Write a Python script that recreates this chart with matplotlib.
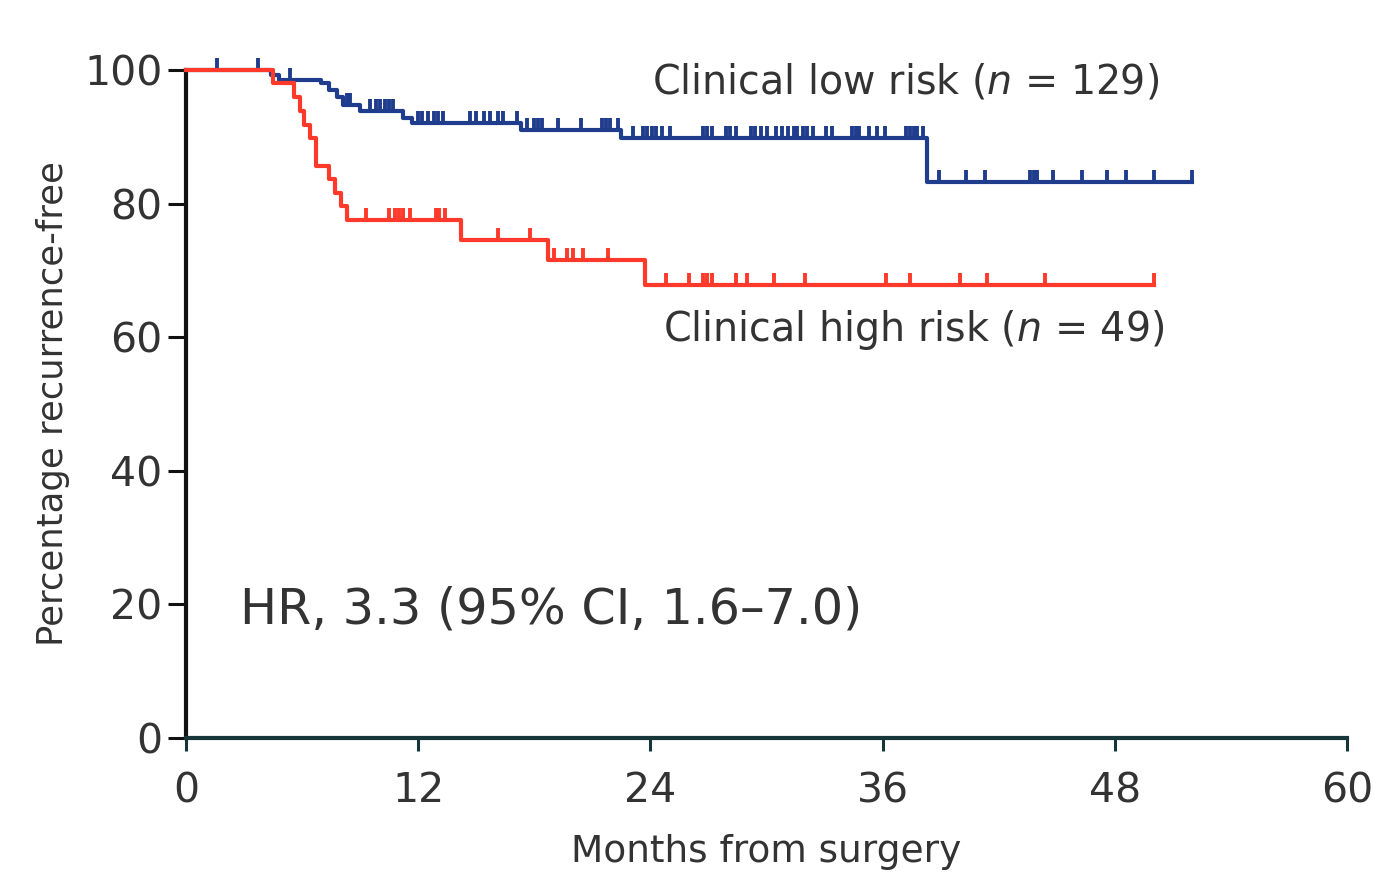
import numpy as np
import matplotlib
matplotlib.use("Agg")
import matplotlib.pyplot as plt

plt.rcParams["font.family"] = ["DejaVu Sans"]
plt.rcParams["mathtext.fontset"] = "dejavusans"

# Kaplan-Meier curves (months, % recurrence-free)
low_times = [0, 4.4, 4.8, 7.0, 7.4, 7.8, 8.1, 9.0, 11.2, 11.7, 17.3, 22.5, 38.3]
low_surv = [100, 99.2, 98.5, 98.0, 97.0, 96.0, 94.8, 93.8, 92.8, 92.0, 91.0, 89.8, 83.3]
low_end = 52.0
low_cens = [1.6, 3.7, 5.4, 8.3, 8.5, 9.5, 9.8, 10.0, 10.3, 10.5, 10.7, 12.0, 12.2,
            12.5, 12.8, 13.0, 13.3, 14.7, 15.0, 15.4, 15.7, 16.1, 16.4, 17.1, 17.6,
            18.0, 18.2, 18.4, 19.2, 20.4, 21.5, 21.7, 21.9, 22.3, 23.1, 23.6, 23.8,
            24.1, 24.3, 24.6, 25.0, 26.7, 26.9, 27.2, 27.9, 28.1, 28.4, 29.2, 29.4,
            29.7, 30.0, 30.5, 30.8, 31.1, 31.4, 31.6, 31.9, 32.1, 32.4, 33.1, 33.4,
            34.4, 34.6, 34.8, 35.3, 35.7, 36.1, 37.2, 37.4, 37.6, 37.8, 38.1, 38.9,
            40.3, 41.3, 43.6, 43.8, 44.0, 44.8, 46.3, 47.6, 48.6, 50.0, 52.0]

high_times = [0, 4.5, 5.6, 5.9, 6.1, 6.4, 6.7, 7.4, 7.7, 8.0, 8.3, 14.2, 18.7, 23.7]
high_surv = [100, 98.0, 95.9, 93.9, 91.8, 89.8, 85.7, 83.7, 81.6, 79.6, 77.6, 74.5, 71.5, 67.8]
high_end = 50.0
high_cens = [9.3, 10.5, 10.8, 11.0, 11.2, 11.6, 12.9, 13.1, 13.4, 16.1, 17.8, 19.0,
             19.7, 20.0, 20.5, 21.8, 24.8, 26.0, 26.7, 26.9, 27.2, 28.4, 29.0, 30.4,
             32.0, 36.2, 37.4, 40.0, 41.4, 44.4, 50.0]

low_label = "Clinical low risk ($n$ = 129)"
high_label = "Clinical high risk ($n$ = 49)"
hr_text = "HR, 3.3 (95% CI, 1.6\u20137.0)"

blue = "#1f3d8c"
red = "#ff3a2a"
grey = "#333333"


def km_curve(ax, times, surv, end, cens, color):
    t = np.append(times, end)
    s = np.append(surv, surv[-1])
    ax.step(t, s, where="post", color=color, lw=3, clip_on=False, zorder=3)
    idx = np.searchsorted(times, cens, side="right") - 1
    cy = np.asarray(surv)[idx]
    ax.plot(cens, cy, ls="none", marker=2, ms=9, mew=2.8, color=color,
            clip_on=False, zorder=3)


fig = plt.figure(figsize=(13.74, 8.74), dpi=100)
ax = fig.add_axes([186 / 1374, 1 - 738 / 874, (1347 - 186) / 1374, (738 - 70) / 874])

km_curve(ax, low_times, low_surv, low_end, low_cens, blue)
km_curve(ax, high_times, high_surv, high_end, high_cens, red)

ax.set_xlim(0, 60)
ax.set_ylim(0, 100)
ax.set_xticks([0, 12, 24, 36, 48, 60])
ax.set_yticks([0, 20, 40, 60, 80, 100])

for side in ["top", "right"]:
    ax.spines[side].set_visible(False)
ax.spines["left"].set_linewidth(3)
ax.spines["left"].set_color("#111111")
ax.spines["bottom"].set_linewidth(3)
ax.spines["bottom"].set_color("#17363a")

ax.tick_params(axis="y", length=13, width=2.2, color="#111111", labelsize=29.5,
               labelcolor=grey, pad=4)
ax.tick_params(axis="x", length=9, width=2.2, color="#17363a", labelsize=29.5,
               labelcolor=grey, pad=15)

ax.set_ylabel("Percentage recurrence-free", fontsize=25.5, color=grey, labelpad=10)
ax.set_xlabel("Months from surgery", fontsize=27, color=grey, labelpad=16)

ax.text(24.1, 98.1, low_label, fontsize=28.5, color=grey, ha="left", va="center")
ax.text(24.65, 61.1, high_label, fontsize=28.5, color=grey, ha="left", va="center")
ax.text(2.8, 19.2, hr_text, fontsize=35.5, color=grey, ha="left", va="center")

plt.savefig("out.png", dpi=100)
